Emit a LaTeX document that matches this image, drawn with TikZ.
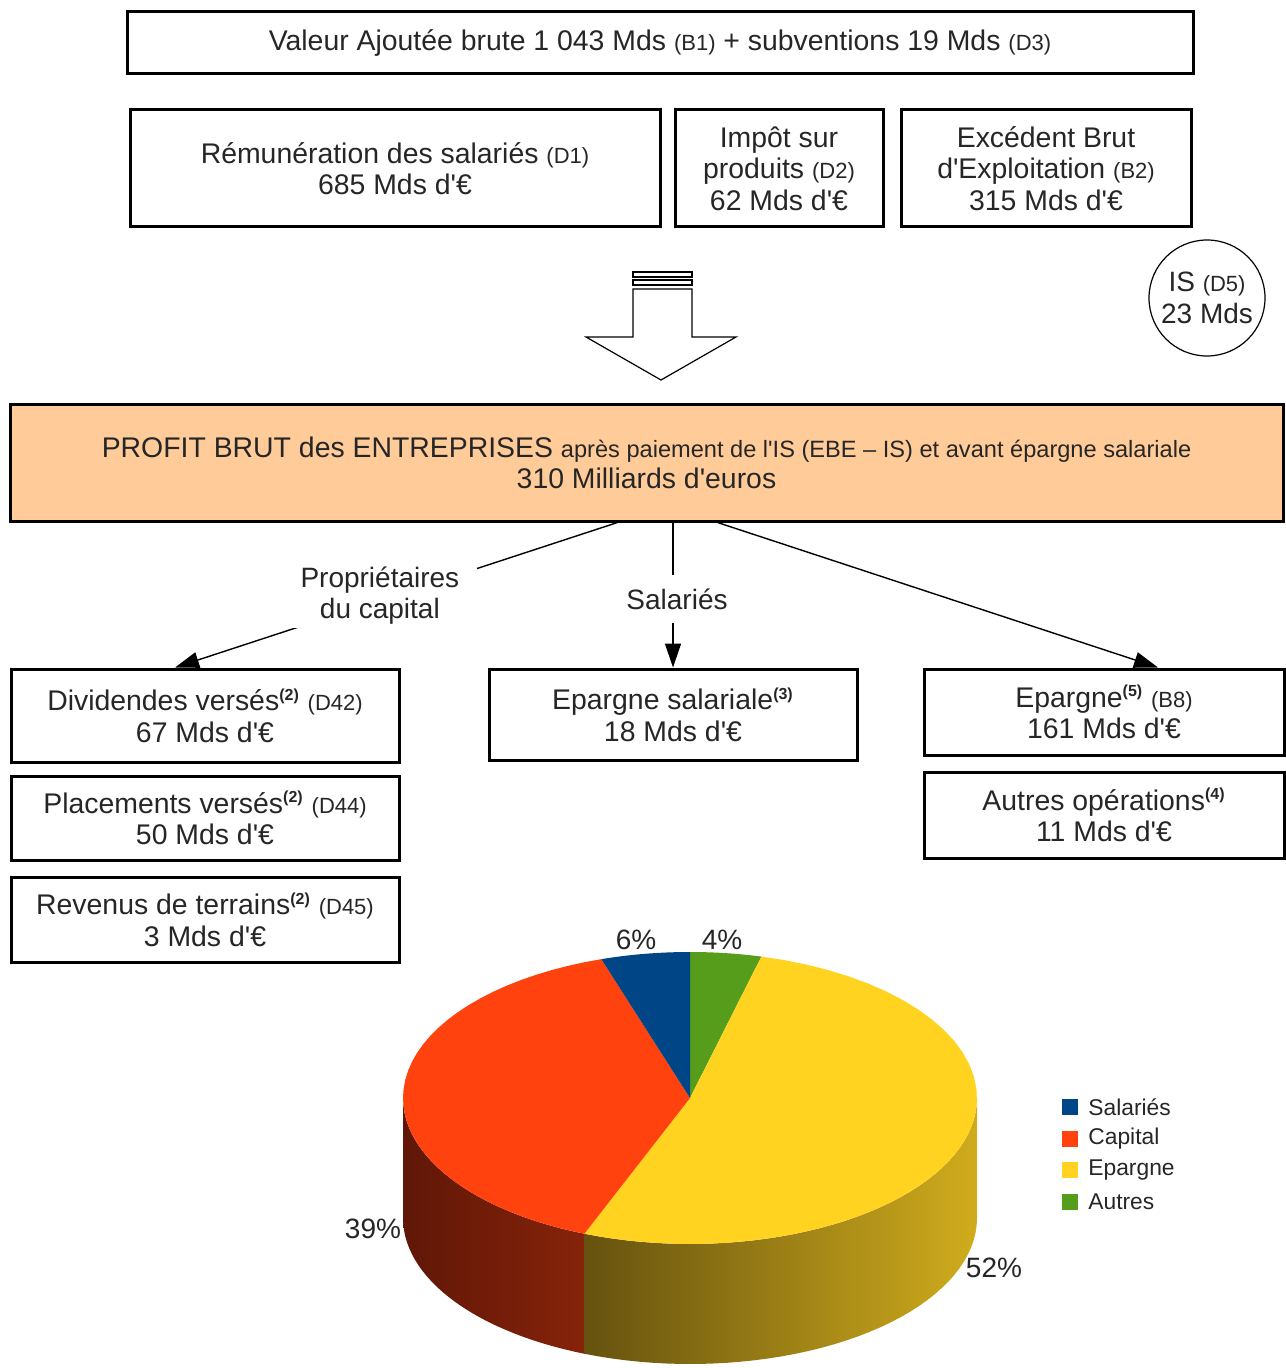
\documentclass[tikz,border=0pt]{standalone}
\usepackage{fontspec}
\setmainfont{Liberation Sans}[Ligatures=TeXOff]
\usetikzlibrary{arrows.meta}

\definecolor{saumon}{HTML}{FFCC99}
\definecolor{texte}{HTML}{262626}
\definecolor{bleu}{HTML}{004586}
\definecolor{rouge}{HTML}{FF420E}
\definecolor{jaune}{HTML}{FFD320}
\definecolor{vert}{HTML}{579D1C}
\definecolor{rougesombre}{HTML}{601707}
\definecolor{rougemilieu}{HTML}{661908}
\definecolor{rougeclair}{HTML}{86230A}
\definecolor{olivesombre}{HTML}{66520F}
\definecolor{oliveclair}{HTML}{D0AC1C}

\newcommand{\petit}[1]{{\fontsize{11}{11}\selectfont #1}}
\newcommand{\expo}[1]{\textsuperscript{\fontsize{8}{8}\selectfont\bfseries(#1)}}

\tikzset{
  boite/.style={draw, line width=1.5pt, inner sep=0pt, align=center, text=texte,
    font=\fontsize{14.2}{15.75}\selectfont},
  etiquette/.style={align=center, text=texte, font=\fontsize{14}{15.75}\selectfont},
  fleche/.style={line width=0.7pt, -{Triangle[length=12pt, width=8pt]}},
}

\begin{document}
\begin{tikzpicture}[x=0.5pt, y=-0.5pt]
\useasboundingbox (0,0) rectangle (1285,1368);

% comptes de production
\node[boite, minimum width=533pt, minimum height=31pt] (valeurajoutee) at (660,43)
  {Valeur Ajoutée brute 1 043 Mds \petit{(B1)} + subventions 19 Mds \petit{(D3)}};
\node[boite, minimum width=265pt, minimum height=58.5pt] (remuneration) at (395,168.5)
  {Rémunération des salariés \petit{(D1)}\\685 Mds d'€};
\node[boite, minimum width=104pt, minimum height=58.5pt] (impot) at (779,168.5)
  {Impôt sur\\produits \petit{(D2)}\\62 Mds d'€};
\node[boite, minimum width=145pt, minimum height=58.5pt] (excedent) at (1046,168.5)
  {Excédent Brut\\d'Exploitation \petit{(B2)}\\315 Mds d'€};
\node[etiquette, draw, circle, line width=0.6pt, minimum size=58pt, inner sep=0pt] (impotsoc) at (1207,298)
  {IS \petit{(D5)}\\23 Mds};

% grosse fleche creuse
\draw[line width=0.6pt] (633,289) -- (692,289) -- (692,337) -- (736,337) -- (661,380)
  -- (586,337) -- (633,337) -- cycle;
\draw[line width=0.6pt] (633,272) rectangle (692,277);
\draw[line width=0.6pt] (633,280) rectangle (692,285);

% profit brut
\node[boite, fill=saumon, minimum width=636.5pt, minimum height=58pt] (profit) at (646.5,463)
  {PROFIT BRUT des ENTREPRISES {\fontsize{11.8}{12}\selectfont après paiement de l'IS (EBE – IS) et avant épargne salariale}\\310 Milliards d'euros};

% repartition
\node[boite, minimum width=194pt, minimum height=46.5pt] (dividendes) at (205,715.5)
  {Dividendes versés\expo{2} \petit{(D42)}\\67 Mds d'€};
\node[boite, minimum width=194pt, minimum height=42pt] (placements) at (205,818)
  {Placements versés\expo{2} \petit{(D44)}\\50 Mds d'€};
\node[boite, minimum width=194pt, minimum height=42.5pt] (revenus) at (205,919.5)
  {Revenus de terrains\expo{2} \petit{(D45)}\\3 Mds d'€};
\node[boite, minimum width=184pt, minimum height=45.5pt] (epargnesal) at (673,714.5)
  {Epargne salariale\expo{3}\\18 Mds d'€};
\node[boite, minimum width=180pt, minimum height=43pt] (epargne) at (1104,712)
  {Epargne\expo{5} \petit{(B8)}\\161 Mds d'€};
\node[boite, minimum width=180pt, minimum height=43pt] (autres) at (1104,815)
  {Autres opérations\expo{4}\\11 Mds d'€};

\draw[fleche] ([xshift=-14.5pt]profit.south) -- node[etiquette, fill=white, pos=0.537, yshift=2.5pt,
  inner xsep=9pt, inner ysep=2pt] (proprietaires) {Propriétaires\\du capital} ([xshift=-15pt]dividendes.north);
\draw[fleche] (profit.south -| epargnesal.north) -- node[etiquette, fill=white, inner ysep=7pt,
  xshift=2pt, yshift=-2pt] (salaries) {Salariés} (epargnesal.north);
\draw[fleche] ([xshift=35.5pt]profit.south) -- ([xshift=27pt]epargne.north);

% camembert en relief
\shade[left color=rougesombre, middle color=rougemilieu, right color=rougeclair]
  plot[domain=180:248.4, samples=30] ({690+287*cos(\x)},{1098-146*sin(\x)})
  -- plot[domain=248.4:180, samples=30] ({690+287*cos(\x)},{1218-146*sin(\x)}) -- cycle;
\shade[left color=olivesombre, right color=oliveclair]
  plot[domain=248.4:360, samples=40] ({690+287*cos(\x)},{1098-146*sin(\x)})
  -- plot[domain=360:248.4, samples=40] ({690+287*cos(\x)},{1218-146*sin(\x)}) -- cycle;
\foreach \debut/\fin/\couleur in {90/75.6/vert, 75.6/-111.6/jaune, -111.6/-252/rouge, -252/-270/bleu}
  {
  \fill[\couleur] (690,1098)
    -- plot[domain=\debut:\fin, samples=40] ({690+287*cos(\x)},{1098-146*sin(\x)}) -- cycle;
  }

\node[etiquette] (pctsalaries) at (636,940) {6\%};
\node[etiquette] (pctautres) at (722,940) {4\%};
\node[etiquette] (pctcapital) at (373,1229) {39\%};
\node[etiquette] (pctepargne) at (994,1268) {52\%};

% legende
\foreach \couleur/\nom [count=\i] in {bleu/Salariés, rouge/Capital, jaune/Epargne, vert/Autres}
  {
  \fill[\couleur] (1062,{1067.3+31.7*\i}) rectangle ++(16,16);
  \node[etiquette, anchor=west, inner sep=0pt, font=\fontsize{11.4}{12}\selectfont]
    (legende\i) at (1088,{1075.3+31.7*\i}) {\nom};
  }

\end{tikzpicture}
\end{document}
